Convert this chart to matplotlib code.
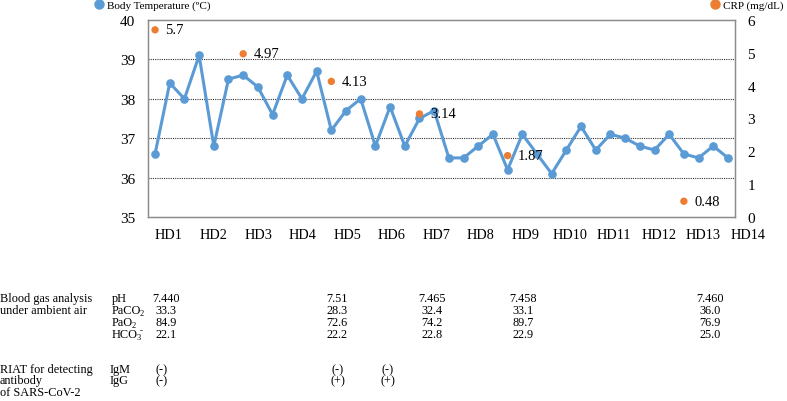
import numpy as np
import matplotlib
matplotlib.use("Agg")
import matplotlib.pyplot as plt
from matplotlib.lines import Line2D

plt.rcParams["font.family"] = ["Liberation Serif", "DejaVu Serif"]

# ----------
# Data
# ----------
temp = [36.6, 38.4, 38.0, 39.1, 36.8, 38.5, 38.6, 38.3, 37.6, 38.6,
        38.0, 38.7, 37.2, 37.7, 38.0, 36.8, 37.8, 36.8, 37.5, 37.7,
        36.5, 36.5, 36.8, 37.1, 36.2, 37.1, 36.6, 36.1, 36.7, 37.3,
        36.7, 37.1, 37.0, 36.8, 36.7, 37.1, 36.6, 36.5, 36.8, 36.5]
crp_idx = [0, 6, 12, 18, 24, 36]
crp = [5.7, 4.97, 4.13, 3.14, 1.87, 0.48]
crp_lbl = ["5.7", "4.97", "4.13", "3.14", "1.87", "0.48"]
days = ["HD%d" % i for i in range(1, 15)]

# (base, subscript, superscript)
bg_names = [("pH", "", ""), ("PaCO", "2", ""), ("PaO", "2", ""), ("HCO", "3", "-")]
bg_vals = [["7.440", "7.51", "7.465", "7.458", "7.460"],
           ["33.3", "28.3", "32.4", "33.1", "36.0"],
           ["84.9", "72.6", "74.2", "89.7", "76.9"],
           ["22.1", "22.2", "22.8", "22.9", "25.0"]]
ab_names = ["IgM", "IgG"]
ab_vals = [["(-)", "(-)", "(-)"],
           ["(-)", "(+)", "(+)"]]

blue = "#5B9BD5"
orange = "#ED7D31"
W, H = 787, 402

fig = plt.figure(figsize=(W / 100, H / 100), dpi=100)
ax = fig.add_axes([148 / W, 1 - 218 / H, (735 - 148) / W, (218 - 21) / H])

x = np.arange(len(temp))
ax.plot(x, temp, color=blue, lw=2.2, marker="o", ms=5.2, zorder=3)
ax.set_xlim(-0.48, len(temp) - 0.52)
ax.set_ylim(35, 40)
ax.set_yticks(range(35, 41))
for v in range(36, 40):
    ax.axhline(v, color="#333333", lw=0.8, ls=(0, (1, 1)), zorder=1)
ax.set_xticks([])
ax.tick_params(axis="y", length=0, pad=9, labelsize=11)
for s in ax.spines.values():
    s.set_color("#8c8c8c")
    s.set_linewidth(1.0)

ax2 = ax.twinx()
ax2.set_ylim(0, 6)
ax2.set_yticks(range(0, 7))
ax2.tick_params(axis="y", length=0, pad=9, labelsize=11)
ax2.scatter(crp_idx, crp, color=orange, s=28, zorder=4, edgecolors="none")
for i, v, t in zip(crp_idx, crp, crp_lbl):
    ax2.annotate(t, (i, v), xytext=(7.5, 0), textcoords="offset points",
                 va="center", ha="left", fontsize=10.5)
for s in ax2.spines.values():
    s.set_color("#8c8c8c")

# day labels below the plot
hd_pos = 0.95 + 3.03 * np.arange(len(days))
for p, d in zip(hd_pos, days):
    ax.text(p, -0.09, d, transform=ax.get_xaxis_transform(), ha="center",
            va="center", fontsize=10.3, clip_on=False)

# legends
fig.legend(handles=[Line2D([], [], color=blue, marker="o", ls="none", ms=6.5)],
           labels=["Body Temperature (\u00baC)"], loc="center left",
           bbox_to_anchor=(87 / W, 1 - 6 / H), frameon=False, fontsize=8,
           handletextpad=0.1, borderpad=0, handlelength=1.2)
fig.legend(handles=[Line2D([], [], color=orange, marker="o", ls="none", ms=6.5)],
           labels=["CRP (mg/dL)"], loc="center left",
           bbox_to_anchor=(703 / W, 1 - 6 / H), frameon=False, fontsize=8,
           handletextpad=0.1, borderpad=0, handlelength=1.2)

FS = 8.8
renderer = fig.canvas.get_renderer()


def ftext(px, py, s, fs=FS, **kw):
    return fig.text(px / W, 1 - py / H, s, va="center", fontsize=fs, **kw)


# blood gas table
bg_rows = [299, 311.5, 323.5, 335]
bg_cols = [166, 337, 432, 523, 710]
ftext(0, bg_rows[0], "Blood gas analysis")
ftext(0, bg_rows[1], "under ambient air")
for r, (base, sub, sup), vals in zip(bg_rows, bg_names, bg_vals):
    t = ftext(112, r, base)
    x1 = t.get_window_extent(renderer).x1
    if sub:
        ftext(x1 - 1.5, r + 3, sub, fs=6)
    if sup:
        ftext(x1 + 2, r - 4, sup, fs=6.5)
    for c, v in zip(bg_cols, vals):
        ftext(c, r, v, ha="center")

# antibody table
ab_rows = [370, 381]
ab_cols = [162, 338, 388]
ftext(0, 370, "RIAT for detecting")
ftext(0, 381, "antibody")
ftext(0, 393, "of SARS-CoV-2")
for r, name, vals in zip(ab_rows, ab_names, ab_vals):
    ftext(110, r, name)
    for c, v in zip(ab_cols, vals):
        ftext(c, r, v, ha="center")

fig.savefig("out.png", dpi=100)
